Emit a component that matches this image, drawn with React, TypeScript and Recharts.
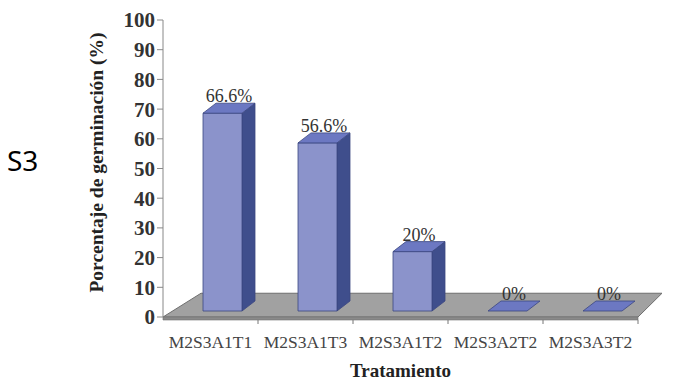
import { Bar, BarChart, Label, LabelList, ReferenceArea, XAxis, YAxis } from "recharts";

const categories = ["M2S3A1T1", "M2S3A1T3", "M2S3A1T2", "M2S3A2T2", "M2S3A3T2"];
const germination = [66.6, 56.6, 20, 0, 0];
const yTicks = [0, 10, 20, 30, 40, 50, 60, 70, 80, 90, 100];

const data = categories.map((name, i) => ({ name, value: germination[i] }));

const SERIF = "'Liberation Serif', 'Times New Roman', serif";

// fake 3D: bars sit a little behind the floor's front edge
const SHIFT_X = 12;
const SHIFT_Y = 6;
const DEPTH_X = 13;
const DEPTH_Y = 10;

function Box3D(props: any) {
  const { x, y, width, height } = props;
  const fx = x + SHIFT_X;
  const fy = y - SHIFT_Y;
  const fb = fy + height;
  const r = fx + width;
  const top = `${fx},${fy} ${fx + DEPTH_X},${fy - DEPTH_Y} ${r + DEPTH_X},${fy - DEPTH_Y} ${r},${fy}`;
  const side = `${r},${fy} ${r + DEPTH_X},${fy - DEPTH_Y} ${r + DEPTH_X},${fb - DEPTH_Y} ${r},${fb}`;
  return (
    <g stroke="#3b4680" strokeWidth={0.8} strokeLinejoin="round">
      {height > 0 && <polygon points={side} fill="#3f4e8c" />}
      {height > 0 && <rect x={fx} y={fy} width={width} height={height} fill="#8b93cb" />}
      <polygon points={top} fill="#6c78c2" />
    </g>
  );
}

function Floor(props: any) {
  const { x, y, width, height } = props;
  const front = y + height;
  const n = categories.length;
  const step = width / n;
  return (
    <g>
      <polygon
        points={`${x},${front} ${x + width},${front} ${x + width + 24},${y} ${x + 38},${y}`}
        fill="#a1a1a1"
        stroke="#6f6f6f"
        strokeWidth={1}
      />
      <polygon
        points={`${x},${front} ${x + width},${front} ${x + width},${front + 3} ${x},${front + 3}`}
        fill="#8a8a8a"
        stroke="#6f6f6f"
        strokeWidth={0.6}
      />
      {categories.map((c, i) => (
        <line
          key={c}
          x1={x + step * (i + 1)}
          x2={x + step * (i + 1)}
          y1={front + 3}
          y2={front + 7}
          stroke="#777"
          strokeWidth={1}
        />
      ))}
    </g>
  );
}

function ValueTag(props: any) {
  const { x, y, width, value } = props;
  return (
    <text
      x={x + width / 2 + SHIFT_X + DEPTH_X / 2}
      y={y - SHIFT_Y - DEPTH_Y - 1}
      textAnchor="middle"
      fontFamily={SERIF}
      fontSize={18}
      fill="#333"
    >
      {value}%
    </text>
  );
}

function CategoryTick(props: any) {
  const { x, y, payload } = props;
  return (
    <text x={x} y={y + 23} textAnchor="middle" fontFamily={SERIF} fontSize={17.5} fill="#444">
      {payload.value}
    </text>
  );
}

function YTitle(props: any) {
  const { viewBox } = props;
  const cx = viewBox.x + 96;
  const cy = viewBox.y + viewBox.height / 2 - 6;
  return (
    <text
      x={cx}
      y={cy}
      transform={`rotate(-90 ${cx} ${cy})`}
      textAnchor="middle"
      dominantBaseline="central"
      fontFamily={SERIF}
      fontWeight="bold"
      fontSize={19.5}
      fill="#222"
    >
      Porcentaje de germinación (%)
    </text>
  );
}

export default function App() {
  return (
    <div style={{ position: "fixed", left: 0, top: 0, width: 677, height: 383, background: "#fff" }}>
      <div
        style={{
          position: "absolute",
          left: 7,
          top: 146,
          fontFamily: "'Noto Sans', sans-serif",
          fontSize: 28,
          color: "#000",
          lineHeight: 1,
        }}
      >
        S3
      </div>
      <BarChart
        width={677}
        height={383}
        data={data}
        margin={{ top: 20, right: 39, bottom: 0, left: 0 }}
        barSize={39}
      >
        <ReferenceArea y1={0} y2={8} shape={(p: any) => <Floor {...p} />} ifOverflow="visible" />
        <XAxis
          dataKey="name"
          height={66}
          axisLine={false}
          tickLine={false}
          tick={<CategoryTick />}
          interval={0}
        >
          <Label
            value="Tratamiento"
            position="insideBottom"
            offset={6}
            fontFamily={SERIF}
            fontWeight="bold"
            fontSize={19}
            fill="#222"
          />
        </XAxis>
        <YAxis
          width={163}
          domain={[0, 100]}
          ticks={yTicks}
          interval={0}
          axisLine={{ stroke: "#888" }}
          tickLine={{ stroke: "#888" }}
          tickSize={6}
          tickMargin={2}
          tick={{ fontFamily: SERIF, fontSize: 21, fontWeight: "bold", fill: "#333" }}
        >
          <Label content={<YTitle />} />
        </YAxis>
        <Bar dataKey="value" shape={<Box3D />} isAnimationActive={false}>
          <LabelList dataKey="value" content={<ValueTag />} />
        </Bar>
      </BarChart>
    </div>
  );
}
